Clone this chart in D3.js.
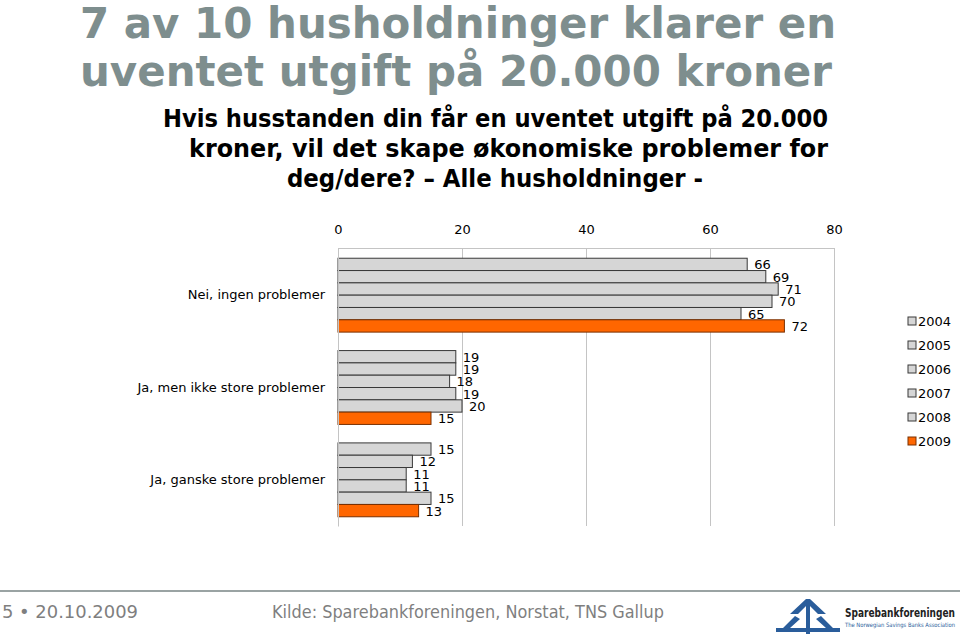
<!DOCTYPE html>
<html><head><meta charset="utf-8">
<script src="https://cdn.jsdelivr.net/npm/d3@7"></script>
<style>body{margin:0;background:#fff;} svg{display:block;}</style>
</head><body>
<svg id="c" width="960" height="637"></svg>
<script>
const categories = ["Nei, ingen problemer", "Ja, men ikke store problemer", "Ja, ganske store problemer"];
const years = ["2004", "2005", "2006", "2007", "2008", "2009"];
const v2004 = [66, 19, 15];
const v2005 = [69, 19, 12];
const v2006 = [71, 18, 11];
const v2007 = [70, 19, 11];
const v2008 = [65, 20, 15];
const v2009 = [72, 15, 13];
const xTicks = [0, 20, 40, 60, 80];
const seriesValues = [v2004, v2005, v2006, v2007, v2008, v2009];

const svg = d3.select("#c");
const font = "'DejaVu Sans', Verdana, sans-serif";
const narrow = "'Liberation Sans Narrow', 'DejaVu Sans Condensed', sans-serif";

function fitText(sel, w) { sel.attr("textLength", w).attr("lengthAdjust", "spacingAndGlyphs"); }
const t1 = svg.append("text").attr("x", 80).attr("y", 38).text("7 av 10 husholdninger klarer en")
  .attr("font-family", font).attr("font-weight", "bold").attr("font-size", 42).attr("fill", "#7e8e8e");
fitText(t1, 756);
const t2 = svg.append("text").attr("x", 80).attr("y", 86).text("uventet utgift på 20.000 kroner")
  .attr("font-family", font).attr("font-weight", "bold").attr("font-size", 42).attr("fill", "#7e8e8e");
fitText(t2, 752);

const subs = [
  {t: "Hvis husstanden din får en uventet utgift på 20.000", x: 163, y: 127, w: 665},
  {t: "kroner, vil det skape økonomiske problemer for", x: 189, y: 157, w: 639},
  {t: "deg/dere? – Alle husholdninger -", x: 287, y: 187, w: 416}
];
subs.forEach(s => {
  const tt = svg.append("text").attr("x", s.x).attr("y", s.y).text(s.t)
    .attr("font-family", font).attr("font-weight", "bold").attr("font-size", 25).attr("fill", "#000");
  fitText(tt, s.w);
});

const x = d3.scaleLinear().domain([0, 80]).range([338, 834]);
const y0 = d3.scaleBand().domain(categories).range([249, 526]).paddingInner(0.2).paddingOuter(0.1);
const y1 = d3.scaleBand().domain(years).range([0, y0.bandwidth()]);

svg.append("g").selectAll("line").data(xTicks).join("line")
  .attr("x1", d => x(d)).attr("x2", d => x(d)).attr("y1", 248).attr("y2", 526)
  .attr("stroke", "#c4c4c4").attr("stroke-width", 1).attr("shape-rendering", "crispEdges");

const ax = svg.append("g").attr("transform", "translate(0,248)")
  .call(d3.axisTop(x).tickValues(xTicks).tickSize(0).tickPadding(14));
ax.select(".domain").attr("stroke", "#c4c4c4");
ax.selectAll("text").attr("font-family", font).attr("font-size", 13).attr("fill", "#000");

const g = svg.append("g");
years.forEach((yr, i) => {
  const vals = seriesValues[i];
  const is09 = yr === "2009";
  g.selectAll(null).data(categories.map((c, j) => ({c, v: vals[j]}))).join("rect")
    .attr("x", x(0)).attr("y", d => y0(d.c) + y1(yr))
    .attr("width", d => x(d.v) - x(0)).attr("height", y1.bandwidth())
    .attr("fill", is09 ? "#ff6600" : "#d6d6d6")
    .attr("stroke", is09 ? "#7a3000" : "#383838").attr("stroke-width", 1);
  g.selectAll(null).data(categories.map((c, j) => ({c, v: vals[j]}))).join("text")
    .attr("x", d => x(d.v) + 7).attr("y", d => y0(d.c) + y1(yr) + y1.bandwidth() / 2 + 5)
    .text(d => d.v).attr("font-family", font).attr("font-size", 13).attr("fill", "#000");
});

const ay = svg.append("g").attr("transform", `translate(${x(0)},0)`)
  .call(d3.axisLeft(y0).tickSize(0).tickPadding(13));
ay.select(".domain").attr("stroke", "#c4c4c4");
ay.selectAll("text").attr("font-family", font).attr("font-size", 13).attr("fill", "#000");

const lg = svg.append("g");
years.forEach((yr, i) => {
  const is09 = yr === "2009";
  const yy = 321 + i * 24;
  lg.append("rect").attr("x", 908).attr("y", yy - 4).attr("width", 8).attr("height", 8)
    .attr("fill", is09 ? "#ff6600" : "#d6d6d6").attr("stroke", is09 ? "#7a3000" : "#383838");
  lg.append("text").attr("x", 918).attr("y", yy + 5).text(yr)
    .attr("font-family", font).attr("font-size", 13).attr("fill", "#000");
});

svg.append("line").attr("x1", 0).attr("x2", 960).attr("y1", 591).attr("y2", 591)
  .attr("stroke", "#9aa3a3").attr("stroke-width", 2);
const f1 = svg.append("text").attr("x", 2).attr("y", 618).text("5 • 20.10.2009")
  .attr("font-family", font).attr("font-size", 17).attr("fill", "#7f7f7f");
fitText(f1, 136);
const f2 = svg.append("text").attr("x", 272).attr("y", 618).text("Kilde: Sparebankforeningen, Norstat, TNS Gallup")
  .attr("font-family", font).attr("font-size", 17).attr("fill", "#7f7f7f");
fitText(f2, 392);

const logo = svg.append("g").attr("fill", "#2a5d9b");
logo.append("path").attr("d", "M806,599 L790,614 L798,614 L808,604 L818,614 L826,614 L810,599 Z");
logo.append("rect").attr("x", 806).attr("y", 600).attr("width", 4).attr("height", 34);
logo.append("path").attr("d", "M795,616 L783,628 L776,628 L776,632 L806,632 L806,628 L790,628 L800,619 Z");
logo.append("path").attr("d", "M821,616 L833,628 L840,628 L840,632 L810,632 L810,628 L826,628 L816,619 Z");
const l1 = svg.append("text").attr("x", 845).attr("y", 617).text("Sparebankforeningen")
  .attr("font-family", narrow).attr("font-weight", "bold").attr("font-size", 13).attr("fill", "#222");
fitText(l1, 110);
const l2 = svg.append("text").attr("x", 845).attr("y", 627).text("The Norwegian Savings Banks Association")
  .attr("font-family", narrow).attr("font-size", 6).attr("fill", "#2a5d9b");
fitText(l2, 110);
</script>
</body></html>
